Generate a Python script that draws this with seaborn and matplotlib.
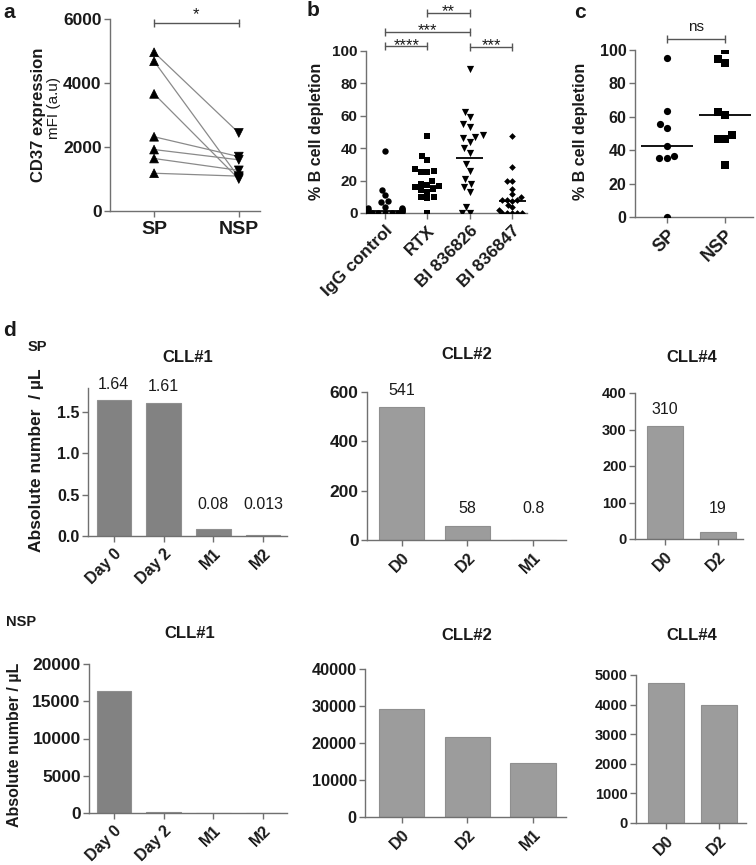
import numpy as np
import pandas as pd
import matplotlib
matplotlib.use("Agg")
import matplotlib.pyplot as plt
import seaborn as sns
import warnings
warnings.filterwarnings("ignore")

# ---------------- data ----------------
# panel a : CD37 expression (paired)
a_groups = ["SP", "NSP"]
a_sp = [4960, 4680, 3660, 2320, 1920, 1640, 1180]
a_nsp = [2440, 1050, 1000, 1700, 1600, 1270, 1090]
a_yticks = [0, 2000, 4000, 6000]
a_sig = "*"

# panel b : % B cell depletion per antibody
b_groups = ["IgG control", "RTX", "BI 836826", "BI 836847"]
b_igg = [38.5, 14.5, 11, 7.5, 7, 4, 3, 3, 2.5, 2, 2, 1.5, 1, 1, 0.5, 0, 0, 0, 0, 0, 0]
b_rtx = [47.5, 35, 32.5, 27, 26, 25, 25, 20, 18, 17, 16.5, 16, 15, 14, 13, 10, 10, 9, 0]
b_bi826 = [89, 62.5, 59, 55, 53, 48, 47, 46, 44, 40, 37, 30, 26, 21, 18, 16, 13, 4, 0, 0]
b_bi847 = [47.5, 28.5, 20, 20, 15, 12, 10, 8, 8, 8, 7.5, 5, 4, 2, 0, 0, 0, 0, 0]
b_centre = [1.5, 16.5, 34, 7.5]
b_yticks = [0, 20, 40, 60, 80, 100]
b_sig_labels = ["****", "***", "**", "***"]
b_sig_pairs = [(0, 1), (0, 2), (1, 2), (2, 3)]

# panel c : % B cell depletion SP vs NSP
c_groups = ["SP", "NSP"]
c_sp = [95, 63.5, 55.5, 53.5, 42.5, 36.5, 35.5, 35.5, 0]
c_nsp = [100, 94.5, 92.5, 63, 61, 49, 47, 47, 31]
c_centre = [42.5, 61]
c_sig = "ns"

# panel d : absolute numbers
d_long = ["Day 0", "Day 2", "M1", "M2"]
d_short3 = ["D0", "D2", "M1"]
d_short2 = ["D0", "D2"]
sp_cll1 = [1.64, 1.61, 0.08, 0.013]
sp_cll1_lab = ["1.64", "1.61", "0.08", "0.013"]
sp_cll2 = [541, 58, 0.8]
sp_cll2_lab = ["541", "58", "0.8"]
sp_cll4 = [310, 19]
sp_cll4_lab = ["310", "19"]
nsp_cll1 = [16400, 150, 20, 10]
nsp_cll2 = [29200, 21600, 14600]
nsp_cll4 = [4720, 4000]
sp_cll1_ticks = [0.0, 0.5, 1.0, 1.5]
sp_cll2_ticks = [0, 200, 400, 600]
sp_cll4_ticks = [0, 100, 200, 300, 400]
nsp_cll1_ticks = [0, 5000, 10000, 15000, 20000]
nsp_cll2_ticks = [0, 10000, 20000, 30000, 40000]
nsp_cll4_ticks = [0, 1000, 2000, 3000, 4000, 5000]
titles = ["CLL#1", "CLL#2", "CLL#4"]

# ---------------- style ----------------
sns.set_style("ticks")
plt.rcParams["font.family"] = ["Liberation Sans", "DejaVu Sans"]
TXT = "#1a1a1a"
SPINE = "#707070"

W, H = 756, 865
fig = plt.figure(figsize=(W / 100, H / 100), dpi=100)
fig.patch.set_facecolor("white")


def box(x0, x1, y_top, y_bot):
    return fig.add_axes([x0 / W, 1 - y_bot / H, (x1 - x0) / W, (y_bot - y_top) / H])


def ftext(x, y, s, **kw):
    kw.setdefault("color", TXT)
    kw.setdefault("ha", "center")
    kw.setdefault("va", "center")
    fig.text(x / W, 1 - y / H, s, **kw)


def style(ax, fs_y, fs_x, xrot=0):
    sns.despine(ax=ax)
    ax.set_facecolor("none")
    for s in ["left", "bottom"]:
        ax.spines[s].set_color(SPINE)
        ax.spines[s].set_linewidth(1.0)
    ax.tick_params(colors=SPINE, labelcolor=TXT, length=4, width=1, direction="out")
    ax.tick_params(axis="y", labelsize=fs_y, pad=2)
    ax.tick_params(axis="x", labelsize=fs_x, pad=3)
    for lab in ax.get_yticklabels() + ax.get_xticklabels():
        lab.set_fontweight("bold")
    if xrot:
        for lab in ax.get_xticklabels():
            lab.set_rotation(xrot)
            lab.set_ha("right")
            lab.set_rotation_mode("anchor")
    ax.set_xlabel("")
    ax.set_ylabel("")


def sig_bar(ax, x0, x1, y, label, fs, dy, weight="normal"):
    ax.plot([x0, x1], [y, y], color="#555555", lw=1.0, marker="|", ms=6,
            mew=1.0, clip_on=False)
    ax.text((x0 + x1) / 2, y + dy, label, ha="center", va="baseline",
            fontsize=fs, color=TXT, clip_on=False, fontweight=weight)


# ---------------- panel a ----------------
axa = box(110, 260, 19, 211)
n = len(a_sp)
dfa = pd.DataFrame({
    "subject": list(range(n)) * 2,
    "group": ["SP"] * n + ["NSP"] * n,
    "value": a_sp + a_nsp,
})
dfa["pos"] = dfa["group"].map({g: i for i, g in enumerate(a_groups)})
sns.lineplot(data=dfa, x="pos", y="value", units="subject", estimator=None,
             color="#8a8a8a", lw=0.9, ax=axa, legend=False, sort=False)
sns.scatterplot(data=dfa, x="pos", y="value", style="group",
                markers={"SP": "^", "NSP": "v"}, color="black", s=40,
                edgecolor="black", ax=axa, legend=False, zorder=3)
axa.set_xlim(-0.52, 1.25)
axa.set_ylim(0, 6000)
axa.set_yticks(a_yticks)
axa.set_xticks(range(len(a_groups)))
axa.set_xticklabels(a_groups)
style(axa, 12.5, 14)
sig_bar(axa, 0, 1, 5875, a_sig, 12, 110)

ftext(39, 115, "CD37 expression", rotation=90, fontsize=12, fontweight="bold")
ftext(54, 108, "mFI (a.u)", rotation=90, fontsize=11)
ftext(9, 12, "a", fontsize=15, fontweight="bold")

# ---------------- panel b ----------------
axb = box(366, 527, 51, 213)
b_vals = [b_igg, b_rtx, b_bi826, b_bi847]
dfb = pd.DataFrame({
    "group": sum([[g] * len(v) for g, v in zip(b_groups, b_vals)], []),
    "value": sum(b_vals, []),
})
for g, mk, sz in zip(b_groups, ["o", "s", "v", "D"], [4.6, 4.6, 5.2, 3.4]):
    sns.swarmplot(data=dfb[dfb["group"] == g], x="group", y="value",
                  order=b_groups, marker=mk, size=sz, color="black",
                  linewidth=0, ax=axb)
xs = np.arange(len(b_groups))
axb.hlines(b_centre, xs - 0.32, xs + 0.32, color="black", lw=1.3, zorder=4)
axb.set_xlim(-0.45, 3.35)
axb.set_ylim(0, 100)
axb.set_yticks(b_yticks)
axb.set_xticks(xs)
axb.set_xticklabels(b_groups)
axb.tick_params(axis="x", length=0)
style(axb, 11, 12.5, xrot=45)
for lab, (i, j), lvl in zip(b_sig_labels, b_sig_pairs, [103, 112, 123.5, 102.5]):
    sig_bar(axb, i, j, lvl, lab, 12, -2.2)
ftext(316, 131, "% B cell depletion", rotation=90, fontsize=11.5, fontweight="bold")
ftext(313, 11, "b", fontsize=15, fontweight="bold")

# ---------------- panel c ----------------
axc = box(635, 753, 50, 217)
dfc = pd.DataFrame({
    "group": ["SP"] * len(c_sp) + ["NSP"] * len(c_nsp),
    "value": c_sp + c_nsp,
})
for g, mk in zip(c_groups, ["o", "s"]):
    sns.swarmplot(data=dfc[dfc["group"] == g], x="group", y="value",
                  order=c_groups, marker=mk, size=5.2, color="black",
                  linewidth=0, ax=axc)
xc = np.arange(len(c_groups))
axc.hlines(c_centre, xc - 0.45, xc + 0.45, color="black", lw=1.3, zorder=4)
axc.set_xlim(-0.55, 1.48)
axc.set_ylim(0, 100)
axc.set_yticks(b_yticks)
axc.set_xticks(xc)
axc.set_xticklabels(c_groups)
style(axc, 11.5, 13, xrot=45)
sig_bar(axc, 0, 1, 106.6, c_sig, 11, 5)
ftext(581, 131, "% B cell depletion", rotation=90, fontsize=11.5, fontweight="bold")
ftext(580, 12, "c", fontsize=15, fontweight="bold")

# ---------------- panel d ----------------
DARK = "#828282"
LIGHT = "#9c9c9c"
panels = [
    dict(rect=(88, 287, 388, 536), cats=d_long, vals=sp_cll1, labs=sp_cll1_lab,
         ticks=sp_cll1_ticks, top=1.79, xlim=(-0.52, 3.48), col=DARK, fy=11.5,
         fmt="{:.1f}", title=(188, 357)),
    dict(rect=(367, 566, 392, 540), cats=d_short3, vals=sp_cll2, labs=sp_cll2_lab,
         ticks=sp_cll2_ticks, top=600, xlim=(-0.53, 2.5), col=LIGHT, fy=12.5,
         fmt="{:d}", title=(467, 355)),
    dict(rect=(635, 743, 393, 539), cats=d_short2, vals=sp_cll4, labs=sp_cll4_lab,
         ticks=sp_cll4_ticks, top=400, xlim=(-0.57, 1.47), col=LIGHT, fy=10.5,
         fmt="{:d}", title=(692, 357)),
    dict(rect=(89, 287, 664, 813), cats=d_long, vals=nsp_cll1, labs=None,
         ticks=nsp_cll1_ticks, top=20000, xlim=(-0.5, 3.48), col=DARK, fy=12.5,
         fmt="{:d}", title=(190, 633)),
    dict(rect=(365, 566, 669, 817), cats=d_short3, vals=nsp_cll2, labs=None,
         ticks=nsp_cll2_ticks, top=40000, xlim=(-0.56, 2.5), col=LIGHT, fy=11.7,
         fmt="{:d}", title=(467, 635)),
    dict(rect=(636, 746, 675, 823), cats=d_short2, vals=nsp_cll4, labs=None,
         ticks=nsp_cll4_ticks, top=5000, xlim=(-0.57, 1.51), col=LIGHT, fy=10.5,
         fmt="{:d}", title=(692, 635)),
]
for k, p in enumerate(panels):
    ax = box(*p["rect"])
    dfd = pd.DataFrame({"cat": p["cats"], "val": p["vals"]})
    sns.barplot(data=dfd, x="cat", y="val", order=p["cats"], color=p["col"],
                width=0.69, edgecolor="#8f8f8f", linewidth=0.8, saturation=1,
                ax=ax)
    ax.set_xlim(*p["xlim"])
    ax.set_ylim(0, p["top"])
    ax.set_yticks(p["ticks"])
    ax.set_yticklabels([p["fmt"].format(t if p["fmt"] == "{:.1f}" else int(t))
                        for t in p["ticks"]])
    ax.set_xticks(range(len(p["cats"])))
    ax.set_xticklabels(p["cats"])
    style(ax, p["fy"], 11.5, xrot=45)
    if p["labs"] is not None:
        for i, (v, s) in enumerate(zip(p["vals"], p["labs"])):
            y = max(v, 0.1 * p["top"]) + 0.11 * p["top"]
            ax.text(i, y, s, ha="center", va="center", fontsize=11.5,
                    color=TXT, clip_on=False)
    ftext(p["title"][0], p["title"][1], titles[k % 3], fontsize=12,
          fontweight="bold")

ftext(9, 331, "d", fontsize=15, fontweight="bold")
ftext(37, 347, "SP", fontsize=10.5, fontweight="bold")
ftext(21, 622, "NSP", fontsize=10.5, fontweight="bold")
ftext(37, 460, "Absolute number  / µL", rotation=90, fontsize=12.5, fontweight="bold")
ftext(15, 745, "Absolute number / µL", rotation=90, fontsize=11.5, fontweight="bold")

fig.savefig("out.png", dpi=100, facecolor="white")
